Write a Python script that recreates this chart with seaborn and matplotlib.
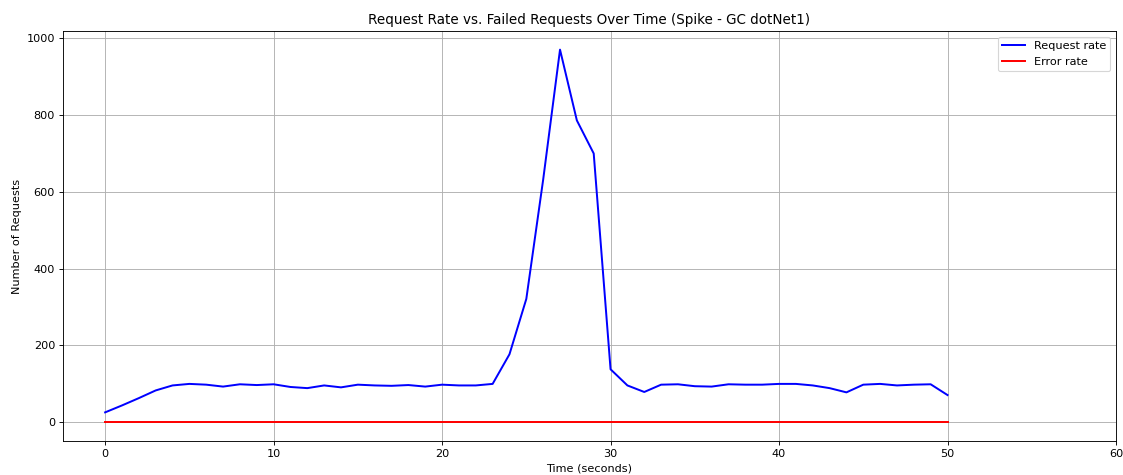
import matplotlib
matplotlib.use("Agg")
import matplotlib.pyplot as plt
import seaborn as sns
import pandas as pd

time_s = list(range(0, 51))
request_rate = [26, 44, 63, 83, 96, 100, 98, 93, 99, 97, 99, 92, 89, 96, 91, 98,
                96, 95, 97, 93, 98, 96, 96, 100, 177, 321, 631, 969, 785, 699,
                138, 96, 79, 98, 99, 94, 93, 99, 98, 98, 100, 100, 96, 89, 78,
                98, 100, 96, 98, 99, 71]
error_rate = [0] * 51

df = pd.DataFrame({"t": time_s, "req": request_rate, "err": error_rate})

DPI = 81
fig, ax = plt.subplots(figsize=(1123 / DPI, 475 / DPI), dpi=DPI)
sns.lineplot(data=df, x="t", y="req", color="blue", label="Request rate", ax=ax, linewidth=1.75)
sns.lineplot(data=df, x="t", y="err", color="red", label="Error rate", ax=ax, linewidth=1.75)
ax.set_xlim(-2.5, 60)
ax.set_title("Request Rate vs. Failed Requests Over Time (Spike - GC dotNet1)", fontsize=12)
ax.set_xlabel("Time (seconds)", fontsize=10)
ax.set_ylabel("Number of Requests", fontsize=10)
ax.tick_params(labelsize=10)
ax.grid(True)
ax.legend(loc="upper right", fontsize=10)
fig.subplots_adjust(left=63 / 1123, right=1116 / 1123, top=1 - 31 / 475, bottom=1 - 441 / 475)
fig.savefig("out.png", dpi=DPI)
